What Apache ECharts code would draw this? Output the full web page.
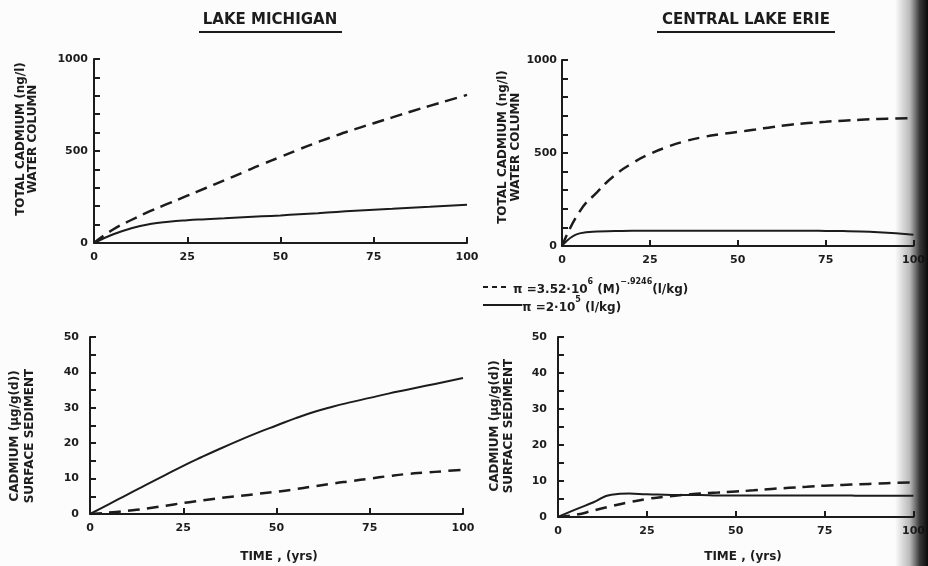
<!DOCTYPE html>
<html>
<head>
<meta charset="utf-8">
<script src="https://cdn.jsdelivr.net/npm/echarts@6/dist/echarts.min.js"></script>
<style>
  html, body { margin: 0; padding: 0; background: #fcfcfc; }
  #chart { width: 928px; height: 566px; }
</style>
</head>
<body>
<div id="chart"></div>
<script>
// Simulation time (years), shared by every curve
const years = [0, 5, 10, 15, 20, 25, 30, 35, 40, 45, 50, 55, 60, 65, 70, 75, 80, 85, 90, 95, 100];

// Total cadmium in the water column (ng/l)
const michWaterVar   = [0, 72, 125, 173, 215, 257, 299, 341, 384, 427, 468, 509, 548, 585, 619, 651, 683, 715, 745, 775, 805];
const michWaterConst = [0, 46, 80, 103, 116, 124, 129, 134, 140, 145, 150, 156, 162, 169, 175, 181, 186, 192, 197, 203, 208];
const erieWaterVar   = [0, 185, 290, 380, 445, 495, 533, 563, 585, 601, 613, 626, 640, 652, 661, 668, 674, 679, 683, 686, 688];
const erieWaterConst = [0, 68, 78, 80, 82, 82, 82, 82, 82, 82, 82, 82, 82, 82, 82, 81, 80, 78, 74, 68, 60];

// Cadmium in the surface sediment (ug/g dry)
const michSedVar   = [0, 0.4, 0.9, 1.5, 2.3, 3.1, 3.8, 4.5, 5.1, 5.7, 6.3, 7.0, 7.8, 8.6, 9.3, 10.0, 10.7, 11.3, 11.7, 12.1, 12.5];
const michSedConst = [0, 2.7, 5.5, 8.2, 10.9, 13.6, 16.1, 18.5, 20.8, 23.0, 25.0, 27.0, 28.8, 30.3, 31.6, 32.8, 34.0, 35.1, 36.2, 37.3, 38.4];
const erieSedVar   = [0, 0.6, 1.8, 3.0, 4.1, 5.0, 5.6, 6.1, 6.5, 6.8, 7.1, 7.4, 7.8, 8.1, 8.4, 8.7, 8.9, 9.1, 9.3, 9.5, 9.6];
const erieSedConst = [0, 2.1, 4.1, 6.2, 6.5, 6.3, 6.2, 6.1, 6.1, 6.0, 6.0, 6.0, 6.0, 6.0, 6.0, 6.0, 6.0, 5.9, 5.9, 5.9, 5.9];

// Axis ticks
const timeTicks = { min: 0, max: 100, interval: 25 };
const waterTicks = { min: 0, max: 1000, interval: 500, minor: 5 };
const sedTicks = { min: 0, max: 50, interval: 10, minor: 2 };

// Panel titles and axis titles
const panelTitles = ['LAKE MICHIGAN', 'CENTRAL LAKE ERIE'];
const waterAxisTitle = ['TOTAL CADMIUM (ng/l)', 'WATER COLUMN'];
const sedAxisTitle = ['CADMIUM (µg/g(d))', 'SURFACE SEDIMENT'];
const timeAxisTitle = 'TIME , (yrs)';

const INK = '#1c1c1c';
const FONT = '"DejaVu Sans", sans-serif';

function pairs(ys) { return years.map((t, i) => [t, ys[i]]); }

function xAxis(gridIndex) {
  return {
    type: 'value', gridIndex,
    min: timeTicks.min, max: timeTicks.max, interval: timeTicks.interval,
    axisLine: { show: true, lineStyle: { color: INK, width: 2 } },
    axisTick: { show: true, inside: true, length: 6, lineStyle: { color: INK, width: 2 } },
    axisLabel: { color: INK, fontFamily: FONT, fontWeight: 'bold', fontSize: 11, margin: 9, formatter: v => String(v) },
    splitLine: { show: false }
  };
}

function yAxis(gridIndex, t, margin) {
  return {
    type: 'value', gridIndex,
    min: t.min, max: t.max, interval: t.interval,
    axisLine: { show: true, lineStyle: { color: INK, width: 2 } },
    axisTick: { show: true, inside: true, length: 6, lineStyle: { color: INK, width: 2 } },
    minorTick: { show: true, splitNumber: t.minor, length: 6, lineStyle: { color: INK, width: 2 } },
    axisLabel: { color: INK, fontFamily: FONT, fontWeight: 'bold', fontSize: 11, margin, formatter: v => String(v) },
    splitLine: { show: false },
    minorSplitLine: { show: false }
  };
}

function curve(idx, ys, dashed) {
  return {
    type: 'line', xAxisIndex: idx, yAxisIndex: idx,
    data: pairs(ys),
    showSymbol: false, symbol: 'none',
    smooth: 0.5,
    lineStyle: { color: INK, width: dashed ? 2.5 : 2, type: dashed ? [12, 7] : 'solid' },
    silent: true, animation: false
  };
}

function rotatedTitle(lines, x1, x2, cy) {
  return lines.map((s, i) => ({
    type: 'text', x: i === 0 ? x1 : x2, y: cy, rotation: Math.PI / 2,
    style: { text: s, fill: INK, font: 'bold 12px ' + FONT, align: 'center', verticalAlign: 'middle' }
  }));
}

const supRich = {
  n: { font: 'bold 12px ' + FONT, fill: INK, lineHeight: 18, verticalAlign: 'bottom' },
  s: { font: 'bold 8px ' + FONT, fill: INK, lineHeight: 18, verticalAlign: 'top' }
};

const graphics = [
  // panel titles with underlines
  { type: 'text', x: 270, y: 20, style: { text: panelTitles[0], fill: INK, font: 'bold 15px ' + FONT, align: 'center', verticalAlign: 'middle' } },
  { type: 'line', shape: { x1: 199, y1: 32, x2: 342, y2: 32 }, style: { stroke: INK, lineWidth: 2 } },
  { type: 'text', x: 746, y: 20, style: { text: panelTitles[1], fill: INK, font: 'bold 15px ' + FONT, align: 'center', verticalAlign: 'middle' } },
  { type: 'line', shape: { x1: 657, y1: 32, x2: 835, y2: 32 }, style: { stroke: INK, lineWidth: 2 } },

  // y-axis titles
  ...rotatedTitle(waterAxisTitle, 21, 33, 139),
  ...rotatedTitle(waterAxisTitle, 503, 516, 147),
  ...rotatedTitle(sedAxisTitle, 15, 30, 436),
  ...rotatedTitle(sedAxisTitle, 495, 509, 426),

  // x-axis titles
  { type: 'text', x: 279, y: 557, style: { text: timeAxisTitle, fill: INK, font: 'bold 12px ' + FONT, align: 'center', verticalAlign: 'middle' } },
  { type: 'text', x: 743, y: 557, style: { text: timeAxisTitle, fill: INK, font: 'bold 12px ' + FONT, align: 'center', verticalAlign: 'middle' } },

  // key
  { type: 'line', shape: { x1: 483, y1: 287, x2: 507, y2: 287 }, style: { stroke: INK, lineWidth: 2, lineDash: [5, 4] } },
  { type: 'text', x: 513, y: 287, style: {
      text: '{n|π =3.52·10}{s|6}{n| (M)}{s|−.9246}{n|(l/kg)}',
      align: 'left', verticalAlign: 'middle', fill: INK, rich: supRich } },
  { type: 'line', shape: { x1: 483, y1: 305, x2: 522, y2: 305 }, style: { stroke: INK, lineWidth: 2 } },
  { type: 'text', x: 522, y: 305, style: {
      text: '{n|π =2·10}{s|5}{n| (l/kg)}',
      align: 'left', verticalAlign: 'middle', fill: INK, rich: supRich } },

  // darkened page edge of the scan
  { type: 'rect', z: 100, shape: { x: 895, y: 0, width: 33, height: 566 },
    style: { fill: { type: 'linear', x: 0, y: 0, x2: 1, y2: 0, colorStops: [
      { offset: 0, color: 'rgba(30,30,30,0)' },
      { offset: 0.45, color: 'rgba(30,30,30,0.3)' },
      { offset: 0.75, color: 'rgba(20,20,20,0.85)' },
      { offset: 1, color: 'rgba(10,10,10,1)' } ] } } }
];

const chart = echarts.init(document.getElementById('chart'), null, { renderer: 'canvas' });
chart.setOption({
  backgroundColor: '#fcfcfc',
  animation: false,
  grid: [
    { left: 94, top: 59, width: 373, height: 184 },
    { left: 562, top: 60, width: 363, height: 186 },
    { left: 90, top: 337, width: 373, height: 177 },
    { left: 558, top: 337, width: 362, height: 180 }
  ],
  xAxis: [xAxis(0), xAxis(1), xAxis(2), xAxis(3)],
  yAxis: [yAxis(0, waterTicks, 6), yAxis(1, waterTicks, 5), yAxis(2, sedTicks, 11), yAxis(3, sedTicks, 11)],
  series: [
    curve(0, michWaterVar, true),
    curve(0, michWaterConst, false),
    curve(1, erieWaterVar, true),
    curve(1, erieWaterConst, false),
    curve(2, michSedVar, true),
    curve(2, michSedConst, false),
    curve(3, erieSedVar, true),
    curve(3, erieSedConst, false)
  ],
  graphic: graphics
});
</script>
</body>
</html>
